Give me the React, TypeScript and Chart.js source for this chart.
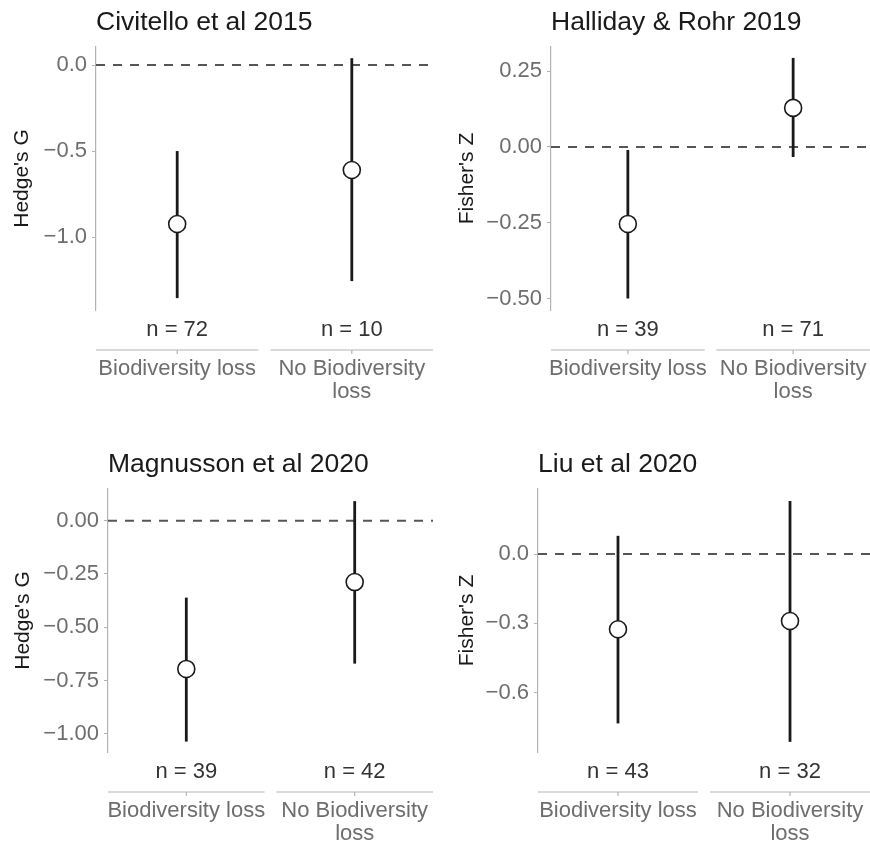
import React, { useEffect, useRef } from "react";
import { Chart, registerables } from "chart.js";

Chart.register(...registerables);

const FONT = '"Liberation Sans", Arial, Helvetica, sans-serif';

// ---------- shared categories ----------
const categories: string[][] = [["Biodiversity loss"], ["No Biodiversity", "loss"]];
const categoryPositions = [1, 2];

// ---------- Civitello et al 2015 ----------
const civitelloEstimate = [-0.924, -0.61];
const civitelloLower = [-1.355, -1.256];
const civitelloUpper = [-0.5, 0.04];
const civitelloN = [72, 10];
const civitelloTicks = [0, -0.5, -1.0];
const civitelloRange = [-1.424, 0.105];

// ---------- Halliday & Rohr 2019 ----------
const hallidayEstimate = [-0.254, 0.129];
const hallidayLower = [-0.5, -0.033];
const hallidayUpper = [-0.01, 0.294];
const hallidayN = [39, 71];
const hallidayTicks = [0.25, 0, -0.25, -0.5];
const hallidayRange = [-0.538, 0.33];

// ---------- Magnusson et al 2020 ----------
const magnussonEstimate = [-0.696, -0.288];
const magnussonLower = [-1.037, -0.671];
const magnussonUpper = [-0.361, 0.092];
const magnussonN = [39, 42];
const magnussonTicks = [0, -0.25, -0.5, -0.75, -1.0];
const magnussonRange = [-1.086, 0.149];

// ---------- Liu et al 2020 ----------
const liuEstimate = [-0.326, -0.29];
const liuLower = [-0.734, -0.814];
const liuUpper = [0.079, 0.23];
const liuN = [43, 32];
const liuTicks = [0, -0.3, -0.6];
const liuRange = [-0.858, 0.282];

type Geom = {
  x: number; y: number; w: number; h: number;
  left: number; right: number; top: number; bottom: number;
  titleBase: number; yLabelBase: number;
};

type PanelCfg = {
  title: string; yLabel: string;
  est: number[]; lower: number[]; upper: number[]; n: number[];
  ticks: number[]; decimals: number; range: number[];
  geom: Geom;
};

const panels: PanelCfg[] = [
  {
    title: "Civitello et al 2015", yLabel: "Hedge's G",
    est: civitelloEstimate, lower: civitelloLower, upper: civitelloUpper, n: civitelloN,
    ticks: civitelloTicks, decimals: 1, range: civitelloRange,
    geom: { x: 0, y: 0, w: 435, h: 420, left: 96, right: 433, top: 47, bottom: 310, titleBase: 30, yLabelBase: 28 },
  },
  {
    title: "Halliday & Rohr 2019", yLabel: "Fisher's Z",
    est: hallidayEstimate, lower: hallidayLower, upper: hallidayUpper, n: hallidayN,
    ticks: hallidayTicks, decimals: 2, range: hallidayRange,
    geom: { x: 435, y: 0, w: 435, h: 420, left: 116, right: 435, top: 47, bottom: 310, titleBase: 30, yLabelBase: 38 },
  },
  {
    title: "Magnusson et al 2020", yLabel: "Hedge's G",
    est: magnussonEstimate, lower: magnussonLower, upper: magnussonUpper, n: magnussonN,
    ticks: magnussonTicks, decimals: 2, range: magnussonRange,
    geom: { x: 0, y: 420, w: 435, h: 425, left: 108, right: 433, top: 69, bottom: 332, titleBase: 52, yLabelBase: 29 },
  },
  {
    title: "Liu et al 2020", yLabel: "Fisher's Z",
    est: liuEstimate, lower: liuLower, upper: liuUpper, n: liuN,
    ticks: liuTicks, decimals: 1, range: liuRange,
    geom: { x: 435, y: 420, w: 435, h: 425, left: 103, right: 435, top: 69, bottom: 332, titleBase: 52, yLabelBase: 38 },
  },
];

const fmt = (v: number, d: number) => {
  const s = Math.abs(v).toFixed(d);
  return v < -1e-9 ? "\u2212" + s : s;
};

function Panel({ cfg }: { cfg: PanelCfg }) {
  const ref = useRef<HTMLCanvasElement>(null);
  useEffect(() => {
    const g = cfg.geom;
    const halfSeg = 0.465;
    const overlay = {
      id: "overlay",
      beforeDatasetsDraw(chart: any) {
        const { ctx, chartArea: a, scales } = chart;
        const xs = scales.x, ys = scales.y;
        ctx.save();
        const y0 = ys.getPixelForValue(0);
        ctx.strokeStyle = "#555555";
        ctx.lineWidth = 2;
        ctx.setLineDash([9, 8]);
        ctx.beginPath();
        ctx.moveTo(a.left, y0);
        ctx.lineTo(a.right, y0);
        ctx.stroke();
        ctx.setLineDash([]);
        ctx.strokeStyle = "#1a1a1a";
        ctx.lineWidth = 2.8;
        ctx.lineCap = "butt";
        cfg.est.forEach((_, i) => {
          const x = xs.getPixelForValue(categoryPositions[i]);
          ctx.beginPath();
          ctx.moveTo(x, ys.getPixelForValue(cfg.lower[i]));
          ctx.lineTo(x, ys.getPixelForValue(cfg.upper[i]));
          ctx.stroke();
        });
        ctx.restore();
      },
      afterDraw(chart: any) {
        const { ctx, chartArea: a, scales } = chart;
        const xs = scales.x;
        ctx.save();
        // title
        ctx.font = `26.5px ${FONT}`;
        ctx.fillStyle = "#1a1a1a";
        ctx.textAlign = "left";
        ctx.textBaseline = "alphabetic";
        ctx.fillText(cfg.title, a.left, g.titleBase);
        // y label
        ctx.save();
        ctx.translate(g.yLabelBase, (a.top + a.bottom) / 2);
        ctx.rotate(-Math.PI / 2);
        ctx.font = `21px ${FONT}`;
        ctx.fillStyle = "#1a1a1a";
        ctx.textAlign = "center";
        ctx.fillText(cfg.yLabel, 0, 0);
        ctx.restore();
        // n labels, category axis
        ctx.textAlign = "center";
        categoryPositions.forEach((pos, i) => {
          const x = xs.getPixelForValue(pos);
          ctx.font = `22px ${FONT}`;
          ctx.fillStyle = "#333333";
          ctx.fillText(`n = ${cfg.n[i]}`, x, a.bottom + 26);
          const ly = a.bottom + 40;
          ctx.strokeStyle = "#b3b3b3";
          ctx.lineWidth = 1.2;
          ctx.beginPath();
          ctx.moveTo(xs.getPixelForValue(pos - halfSeg), ly);
          ctx.lineTo(xs.getPixelForValue(pos + halfSeg), ly);
          ctx.moveTo(x, ly);
          ctx.lineTo(x, ly + 4);
          ctx.stroke();
          ctx.fillStyle = "#6e6e6e";
          categories[i].forEach((line, j) => {
            ctx.fillText(line, x, a.bottom + 65 + j * 23);
          });
        });
        ctx.restore();
      },
    };
    const chart = new Chart(ref.current as HTMLCanvasElement, {
      type: "scatter",
      data: {
        datasets: [
          {
            data: cfg.est.map((v, i) => ({ x: categoryPositions[i], y: v })),
            pointRadius: 8.5,
            pointBorderWidth: 1.6,
            pointBackgroundColor: "#ffffff",
            pointBorderColor: "#1a1a1a",
            showLine: false,
          },
        ],
      },
      options: {
        animation: false,
        responsive: false,
        devicePixelRatio: 1,
        events: [],
        layout: { autoPadding: false, padding: { left: 0, top: g.top, right: g.w - g.right, bottom: g.h - g.bottom } },
        plugins: { legend: { display: false }, tooltip: { enabled: false }, title: { display: false } },
        scales: {
          x: { type: "linear", display: false, min: 0.535, max: 2.465 },
          y: {
            type: "linear",
            min: cfg.range[0],
            max: cfg.range[1],
            afterFit: (s: any) => { s.width = g.left; },
            afterBuildTicks: (s: any) => { s.ticks = cfg.ticks.map((v) => ({ value: v })); },
            ticks: {
              callback: (v: any) => fmt(Number(v), cfg.decimals),
              color: "#6e6e6e",
              font: { family: FONT, size: 22 },
              padding: 5,
            },
            grid: { drawOnChartArea: false, drawTicks: true, tickLength: 4, color: "#b3b3b3" },
            border: { display: true, color: "#b3b3b3", width: 1.2 },
          },
        },
      } as any,
      plugins: [overlay],
    });
    return () => chart.destroy();
  }, [cfg]);
  const g = cfg.geom;
  return (
    <canvas
      ref={ref}
      width={g.w}
      height={g.h}
      style={{ position: "absolute", left: g.x, top: g.y, width: g.w, height: g.h, display: "block" }}
    />
  );
}

export default function App() {
  return (
    <div style={{ position: "absolute", left: 0, top: 0, width: 870, height: 845, background: "#ffffff" }}>
      {panels.map((p) => (
        <Panel key={p.title} cfg={p} />
      ))}
    </div>
  );
}
